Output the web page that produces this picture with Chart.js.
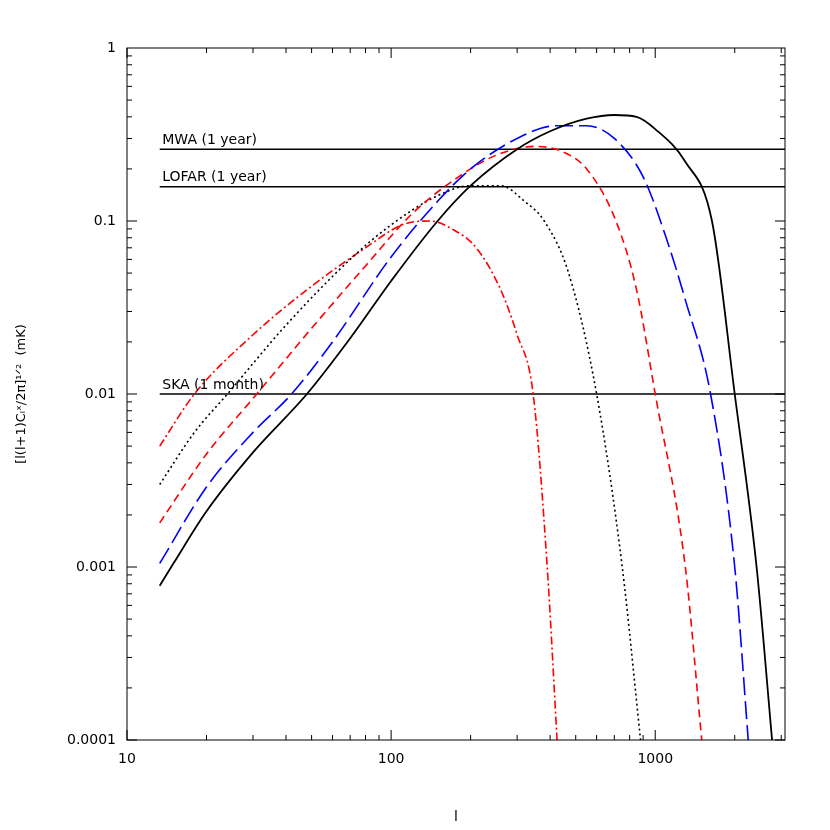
<!DOCTYPE html>
<html><head><meta charset="utf-8">
<script src="https://cdn.jsdelivr.net/npm/chart.js@4"></script>
<style>body{margin:0;background:#fff}</style>
</head><body>
<canvas id="c" width="830" height="830"></canvas>
<script>
// === Datos ===
var xTicks = [10, 100, 1000];
var yTicks = [1, 0.1, 0.01, 0.001, 0.0001];

var solidL = [13.3, 15, 20, 30, 48, 70, 100, 150, 200, 300, 400, 550, 700, 850, 1000, 1300, 1640, 2000, 2420, 2770];
var solidV = [0.00078, 0.00105, 0.0021, 0.0046, 0.01, 0.021, 0.045, 0.1, 0.16, 0.26, 0.33, 0.39, 0.41, 0.40, 0.34, 0.22, 0.1, 0.01, 0.001, 0.0001];

var blueL = [13.3, 20, 30, 42, 60, 100, 150, 200, 300, 420, 550, 700, 900, 1100, 1300, 1620, 2000, 2250];
var blueV = [0.00105, 0.0029, 0.006, 0.01, 0.02, 0.062, 0.13, 0.2, 0.3, 0.355, 0.355, 0.3, 0.18, 0.08, 0.035, 0.01, 0.001, 0.0001];

var redDashL = [13.3, 20, 31, 50, 80, 120, 180, 250, 350, 450, 550, 710, 850, 1000, 1300, 1500];
var redDashV = [0.0018, 0.0045, 0.01, 0.024, 0.055, 0.11, 0.18, 0.24, 0.27, 0.25, 0.2, 0.1, 0.04, 0.01, 0.001, 0.0001];

var dotL = [13.3, 18, 24, 40, 70, 100, 150, 200, 260, 320, 380, 470, 600, 750, 880];
var dotV = [0.003, 0.006, 0.01, 0.025, 0.06, 0.095, 0.14, 0.16, 0.16, 0.13, 0.1, 0.05, 0.01, 0.001, 0.0001];

var dashDotL = [13.3, 18, 30, 50, 80, 110, 140, 170, 210, 260, 300, 345, 390, 425];
var dashDotV = [0.005, 0.01, 0.022, 0.042, 0.07, 0.095, 0.1, 0.09, 0.07, 0.04, 0.022, 0.01, 0.001, 0.0001];

var limitNames = ['MWA (1 year)', 'LOFAR (1 year)', 'SKA (1 month)'];
var limitVals = [0.26, 0.158, 0.01];
var limitRange = [13.3, 3100];

function pts(xs, ys) {
  return xs.map(function (x, i) { return { x: x, y: ys[i] }; });
}
function curve(xs, ys, color, dash, width) {
  return { data: pts(xs, ys), borderColor: color, borderDash: dash, borderWidth: width || 1.6,
    pointRadius: 0, fill: false, cubicInterpolationMode: 'monotone' };
}

var datasets = [
  curve(solidL, solidV, '#000', [], 1.8),
  curve(blueL, blueV, '#0000ff', [18, 6]),
  curve(redDashL, redDashV, '#ff0000', [8, 5]),
  curve(dotL, dotV, '#000', [2, 3]),
  curve(dashDotL, dashDotV, '#ff0000', [8, 3, 2, 3])
];
limitVals.forEach(function (v) {
  datasets.push({ data: pts(limitRange, [v, v]), borderColor: '#000', borderWidth: 1.5,
    pointRadius: 0, fill: false });
});

var font = { family: 'DejaVu Sans, sans-serif', size: 14 };

var extras = {
  id: 'extras',
  afterDraw: function (chart) {
    var ctx = chart.ctx, a = chart.chartArea;
    var xs = chart.scales.x, ys = chart.scales.y;
    ctx.save();
    ctx.strokeStyle = '#000';
    ctx.lineWidth = 1;
    ctx.strokeRect(a.left, a.top, a.right - a.left, a.bottom - a.top);
    // minor ticks
    for (var d = 10; d < 10000; d *= 10) {
      for (var k = 1; k < 10; k++) {
        var v = d * k;
        if (v < 10 || v > 3100) continue;
        var px = xs.getPixelForValue(v), len = k === 1 ? 10 : 5;
        ctx.beginPath();
        ctx.moveTo(px, a.bottom); ctx.lineTo(px, a.bottom - len);
        ctx.moveTo(px, a.top); ctx.lineTo(px, a.top + len);
        ctx.stroke();
      }
    }
    for (var e = 0.0001; e < 1; e *= 10) {
      for (var m = 1; m < 10; m++) {
        var py = ys.getPixelForValue(e * m), l2 = m === 1 ? 10 : 5;
        ctx.beginPath();
        ctx.moveTo(a.left, py); ctx.lineTo(a.left + l2, py);
        ctx.moveTo(a.right, py); ctx.lineTo(a.right - l2, py);
        ctx.stroke();
      }
    }
    ctx.fillStyle = '#000';
    ctx.font = '14px DejaVu Sans, sans-serif';
    ctx.textBaseline = 'bottom';
    limitNames.forEach(function (n, i) {
      ctx.fillText(n, xs.getPixelForValue(13.6), ys.getPixelForValue(limitVals[i]) - 2);
    });
    ctx.restore();
  }
};

new Chart(document.getElementById('c'), {
  type: 'line',
  data: { datasets: datasets },
  plugins: [extras],
  options: {
    responsive: false,
    animation: false,
    layout: { padding: { top: 48, right: 45, left: 10 } },
    plugins: { legend: { display: false }, tooltip: { enabled: false } },
    scales: {
      x: {
        type: 'logarithmic', min: 10, max: 3100,
        afterBuildTicks: function (s) { s.ticks = xTicks.map(function (v) { return { value: v }; }); },
        ticks: { color: '#000', font: font, maxRotation: 0, callback: function (v) { return String(v); } },
        grid: { display: false },
        border: { display: false },
        title: { display: true, text: 'l', color: '#000', font: font },
        afterFit: function (s) { s.height = 90; }
      },
      y: {
        type: 'logarithmic', min: 0.0001, max: 1,
        afterBuildTicks: function (s) { s.ticks = yTicks.map(function (v) { return { value: v }; }); },
        ticks: { color: '#000', font: font, callback: function (v) { return String(v); } },
        grid: { display: false },
        border: { display: false },
        title: { display: true, text: '[l(l+1)C\u2097\u02e3/2\u03c0]\u00b9\u141f\u00b2  (mK)', color: '#000', font: { family: 'DejaVu Sans, sans-serif', size: 13 } },
        afterFit: function (s) { s.width = 117; }
      }
    }
  }
});
</script>
</body></html>
